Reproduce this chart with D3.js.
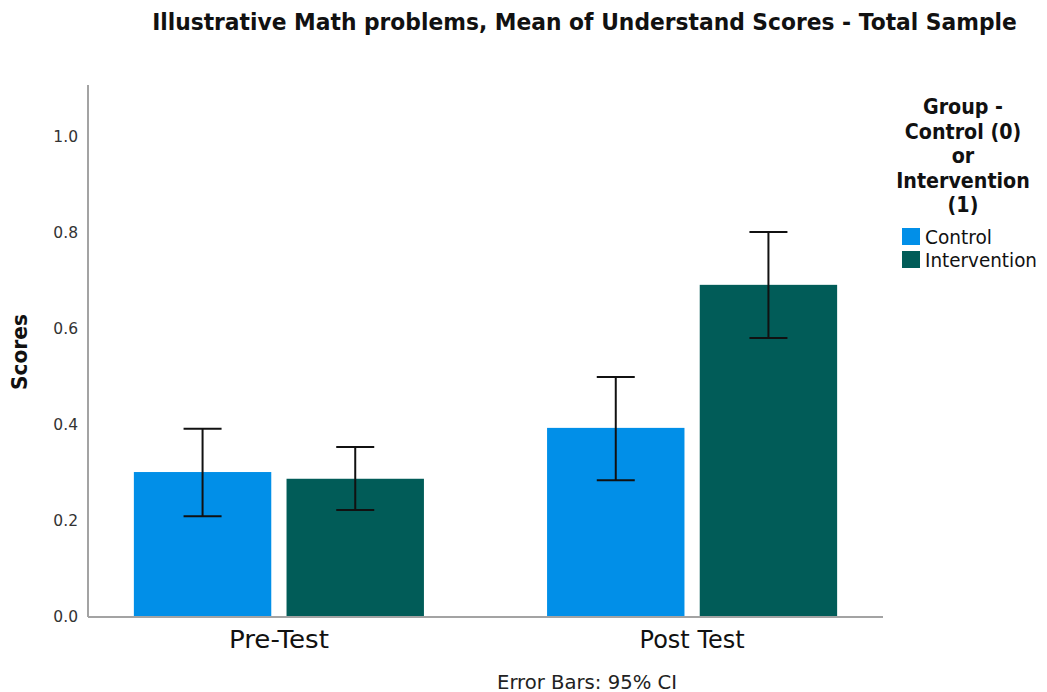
<!DOCTYPE html>
<html>
<head>
<meta charset="utf-8">
<script src="https://cdn.jsdelivr.net/npm/d3@7"></script>
<style>
  html, body { margin: 0; padding: 0; background: #fff; }
  svg { display: block; }
</style>
</head>
<body>
<svg id="chart" width="1047" height="692"></svg>
<script>
// Test phases and groups
const phases = ["Pre-Test", "Post Test"];
const groups = ["Control", "Intervention"];

// Mean understand scores per phase, one array per group
const controlMeans = [0.302, 0.394];
const interventionMeans = [0.288, 0.692];

// 95% confidence interval bounds
const controlLower = [0.210, 0.285];
const controlUpper = [0.392, 0.500];
const interventionLower = [0.223, 0.581];
const interventionUpper = [0.354, 0.802];

const yTicks = [0.0, 0.2, 0.4, 0.6, 0.8, 1.0];

const colors = { Control: "#018FE8", Intervention: "#015C58" };
const FONT = "DejaVu Sans, Verdana, sans-serif";

const rows = [];
phases.forEach((p, i) => {
  rows.push({ phase: p, group: "Control", mean: controlMeans[i], lo: controlLower[i], hi: controlUpper[i] });
  rows.push({ phase: p, group: "Intervention", mean: interventionMeans[i], lo: interventionLower[i], hi: interventionUpper[i] });
});

const svg = d3.select("#chart");
const plotLeft = 88, plotRight = 883, plotTop = 89, plotBottom = 617;

const x0 = d3.scaleBand().domain(phases).range([plotLeft, plotRight]).paddingInner(0.298).paddingOuter(0.111);
const x1 = d3.scaleBand().domain(groups).range([0, x0.bandwidth()]).paddingInner(0.1);
const y = d3.scaleLinear().domain([0, 1.1]).range([plotBottom, plotTop]);

// Condense a text element horizontally so it spans the given width around cx
function condense(sel, cx, width) {
  const natural = sel.node().getComputedTextLength();
  const k = Math.min(1, width / natural);
  sel.attr("x", 0).attr("transform", `translate(${cx},0) scale(${k},1)`);
}

// Title
const title = svg.append("text")
  .attr("y", 30)
  .attr("text-anchor", "middle")
  .attr("font-family", FONT)
  .attr("font-weight", "bold")
  .attr("font-size", 23)
  .attr("fill", "#111")
  .text("Illustrative Math problems, Mean of Understand Scores - Total Sample");
condense(title, 584.5, 865);

// Bars
svg.append("g").selectAll("rect.bar").data(rows).join("rect")
  .attr("class", "bar")
  .attr("x", d => x0(d.phase) + x1(d.group))
  .attr("width", x1.bandwidth())
  .attr("y", d => y(d.mean))
  .attr("height", d => y(0) - y(d.mean))
  .attr("fill", d => colors[d.group]);

// Y axis
const yAxis = d3.axisLeft(y).tickValues(yTicks).tickSize(0).tickPadding(10).tickFormat(d3.format(".1f"));
const ya = svg.append("g").attr("transform", `translate(${plotLeft},0)`).call(yAxis);
ya.select(".domain").remove();
ya.selectAll("text").attr("font-family", FONT).attr("font-size", 15.5).attr("fill", "#333");
svg.append("line").attr("x1", plotLeft).attr("x2", plotLeft).attr("y1", 85).attr("y2", plotBottom)
  .attr("stroke", "#a3a3a3").attr("stroke-width", 2);

// X axis
const xLabelWidth = { "Pre-Test": 100, "Post Test": 105 };
const xAxis = d3.axisBottom(x0).tickSize(0).tickPadding(0);
const xa = svg.append("g").attr("transform", `translate(0,${plotBottom})`).call(xAxis);
xa.select(".domain").remove();
xa.selectAll("text")
  .attr("font-family", FONT).attr("font-size", 24).attr("fill", "#111")
  .attr("y", 31).attr("dy", 0)
  .attr("textLength", d => xLabelWidth[d])
  .attr("lengthAdjust", "spacingAndGlyphs");
svg.append("line").attr("x1", plotLeft).attr("x2", plotRight).attr("y1", plotBottom).attr("y2", plotBottom)
  .attr("stroke", "#a3a3a3").attr("stroke-width", 2);

// Error bars (95% CI)
const cap = 19;
const eb = svg.append("g").attr("stroke", "#111").attr("stroke-width", 2);
rows.forEach(d => {
  const cx = x0(d.phase) + x1(d.group) + x1.bandwidth() / 2;
  eb.append("line").attr("x1", cx).attr("x2", cx).attr("y1", y(d.hi)).attr("y2", y(d.lo));
  eb.append("line").attr("x1", cx - cap).attr("x2", cx + cap).attr("y1", y(d.hi)).attr("y2", y(d.hi));
  eb.append("line").attr("x1", cx - cap).attr("x2", cx + cap).attr("y1", y(d.lo)).attr("y2", y(d.lo));
});

// Y axis title
svg.append("text")
  .attr("transform", "translate(27,352) rotate(-90)")
  .attr("text-anchor", "middle")
  .attr("font-family", FONT)
  .attr("font-weight", "bold")
  .attr("font-size", 22)
  .attr("textLength", 76)
  .attr("lengthAdjust", "spacingAndGlyphs")
  .attr("fill", "#111")
  .text("Scores");

// Footnote
svg.append("text")
  .attr("x", 587).attr("y", 688.5)
  .attr("text-anchor", "middle")
  .attr("font-family", FONT)
  .attr("font-size", 19)
  .attr("textLength", 180)
  .attr("lengthAdjust", "spacingAndGlyphs")
  .attr("fill", "#222")
  .text("Error Bars: 95% CI");

// Legend title, slightly condensed horizontally
const legendTitle = ["Group -", "Control (0)", "or", "Intervention", "(1)"];
const lt = svg.append("g").attr("transform", "translate(963,0) scale(0.91,1)")
  .append("text")
  .attr("text-anchor", "middle")
  .attr("font-family", FONT)
  .attr("font-weight", "bold")
  .attr("font-size", 21)
  .attr("fill", "#111");
legendTitle.forEach((t, i) => {
  lt.append("tspan").attr("x", 0).attr("y", 114.5 + i * 24.5).text(t);
});

// Legend swatches
const legendLabelWidth = { Control: 67, Intervention: 112 };
const lg = svg.append("g").attr("transform", "translate(902,228)");
groups.forEach((grp, i) => {
  lg.append("rect").attr("x", 0).attr("y", i * 23).attr("width", 18).attr("height", 17).attr("fill", colors[grp]);
  lg.append("text").attr("x", 23).attr("y", i * 23 + 16)
    .attr("font-family", FONT)
    .attr("font-size", 20)
    .attr("textLength", legendLabelWidth[grp])
    .attr("lengthAdjust", "spacingAndGlyphs")
    .attr("fill", "#111").text(grp);
});
</script>
</body>
</html>
